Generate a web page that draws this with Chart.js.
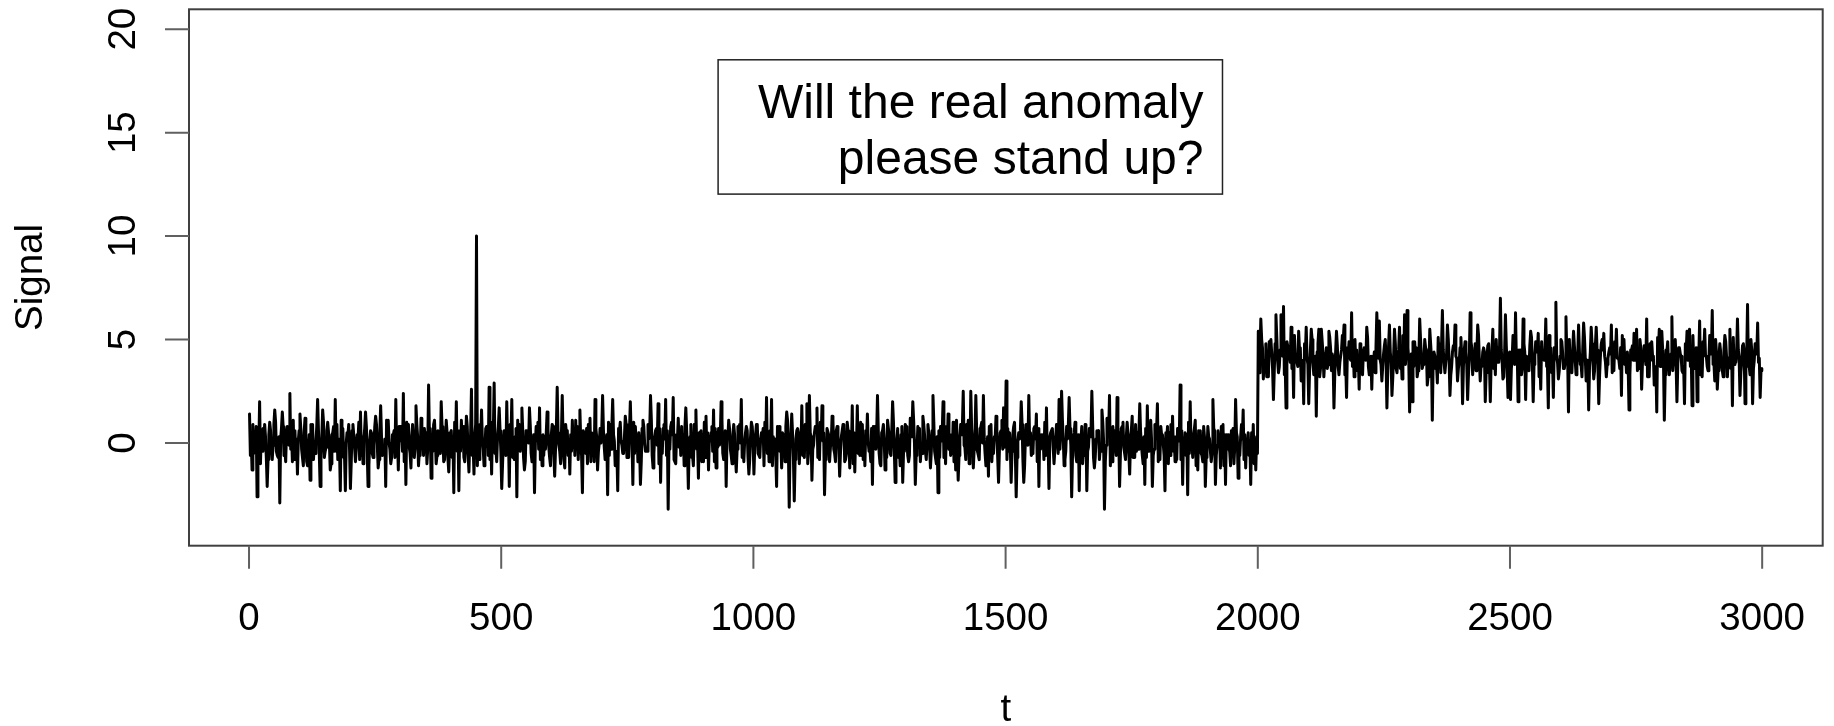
<!DOCTYPE html>
<html>
<head>
<meta charset="utf-8">
<title>Will the real anomaly please stand up?</title>
<script src="https://cdn.jsdelivr.net/npm/chart.js@4.4.1/dist/chart.umd.min.js"></script>
<style>
  html, body { margin: 0; padding: 0; background: #fff; }
  canvas { display: block; }
</style>
</head>
<body>
<canvas id="signalChart" width="1834" height="726"></canvas>
<script>
// signal: peaks/troughs every 5 steps of t (t = 1, 6, 11, ...)
// t = 1 .. 1996
const baseline = [
  1.4, -1.3, 0.4, -2.6, 2.0, -0.4, 0.9, -2.1, 1.0, -0.8, 1.6, -0.6, -2.9, 1.5, -0.3, 0.8, 2.4, -0.9, 0.6, -1.5,
  1.4, -0.7, 1.2, -1.1, -1.8, 0.9, -0.5, 2.1, -2.1, 1.6, -0.4, 1.0, -1.3, 0.5, 2.1, -0.8, -2.3, 0.7, -2.3, 0.4,
  -2.2, 0.9, -0.9, 0.2, 1.5, -1.0, 1.5, -2.1, 0.6, -0.7, 1.3, -1.2, 1.8, -0.5, -2.1, 1.1, -1.0, 0.4, 2.1, -1.3,
  0.8, 2.4, -2.0, 0.9, -1.2, 0.3, 1.8, -1.1, 1.2, -0.6, 0.5, 2.8, -1.7, 0.9, -1.0, 0.4, 2.0, -0.9, 1.1, -1.4,
  0.6, -2.4, 2.0, -2.3, 1.1, -0.7, 1.3, -1.4, 2.6, -1.5, 10.0, -0.8, 1.6, -1.1, 0.8, 2.7, -1.5, 2.9, -0.9, 1.7,
  -2.2, 0.6, 2.0, -2.1, 2.1, -0.8, -2.6, 0.9, 1.7, -1.3, 0.5, 1.7, -0.9, -2.4, 0.7, 1.7, -1.1, 0.3, 1.5, -0.7,
  0.9, -1.6, 2.7, -0.4, 2.3, -1.2, 0.6, -1.5, 1.1, -0.6, 0.8, 1.6, -2.4, 0.5, -1.0, 1.2, -0.4, 2.1, -1.3, 0.7,
  2.3, -0.8, -2.5, 0.9, 2.1, -1.1, -2.3, 1.0, -0.5, 1.3, -0.7, 2.0, -2.0, 0.8, -0.9, -2.0, 1.1, -0.4, 0.9, 2.3,
  -1.2, 0.6, 1.9, -1.9, 0.7, 2.1, -3.2, 0.8, 2.2, -1.0, 1.2, -0.6, 0.4, 1.7, -2.2, 0.9, -1.1, 1.6, -1.7, 0.6,
  -0.9, 1.3, -1.3, 0.5, 1.6, -1.2, 0.7, 2.0, -0.8, -2.1, 1.1, -0.6, 0.9, -1.4, 0.4, 2.1, -0.9, 0.8, -1.5, 1.0,
  -1.5, 0.9, -0.6, 0.5, -1.1, 2.2, -0.9, 2.1, -0.4, -2.1, 0.8, -1.2, 0.4, 1.5, -3.1, 1.4, -2.8, 0.6, -1.0, 1.8,
  -0.7, 1.9, 2.3, -1.8, 0.5, 1.7, -0.8, 1.8, -2.5, 0.7, -0.9, 1.3, -0.5, 0.8, -1.6, 0.6, -0.9, 1.0, -1.2, 1.8,
  -1.4, 1.8, -0.6, 0.9, -1.1, 1.4, -0.3, -2.0, 0.8, 2.3, -1.0, 0.6, -1.3, 1.1, -0.5, 2.0, -1.9, 0.7, -1.1, -1.9,
  0.9, -0.6, 1.2, 2.0, -2.0, 0.8, -0.9, 1.3, -0.4, 0.9, -1.2, 2.3, -0.7, -2.4, 0.8, 2.0, -1.0, 1.4, -0.6, 1.0,
  -1.3, -1.8, 0.9, 2.5, -0.8, 1.1, 2.5, -1.2, 2.3, -0.6, 0.8, 2.3, -1.1, -1.6, 0.9, -0.5, 1.3, -1.9, 0.6, 1.7,
  3.0, -0.4, -1.9, 0.8, -2.6, 0.5, 2.0, -1.9, 0.9, 2.3, -0.6, 0.7, 1.4, -2.1, 0.4, -0.8, 1.7, -2.2, 0.6, -1.0,
  0.9, 2.1, 2.5, -1.1, 0.8, 2.2, -2.6, 0.5, -0.9, -2.3, 0.8, -0.6, -2.3, 0.7, 2.5, -1.2, 0.6, -0.8, 1.6, -3.2,
  1.2, 2.3, -0.9, 0.6, 2.2, -2.1, 0.8, -0.5, 1.0, -1.5, 1.3, -0.7, 0.5, 1.9, -0.6, -2.0, 1.8, 0.2, -2.1, 0.9,
  1.9, -0.8, 0.4, -2.3, 0.8, -0.6, 1.3, -0.9, 0.7, 2.8, -2.0, 0.5, -2.5, 2.0, -0.7, 1.1, -1.3, 0.6, -0.9, -2.1,
  0.8, -0.4, 2.1, -2.0, 0.6, -1.2, 0.9, -2.0, 0.4, -1.1, 0.7, 2.1, -1.7, 0.3, 1.6, -1.2, 0.5, -2.0, 0.9, -1.3
];
// t = 2001 .. 2996, after the level shift
const shifted = [
  5.4, 6.0, 3.1, 4.8, 3.2, 5.0, 2.1, 6.2, 3.4, 6.2, 6.6, 1.7, 4.5, 5.6, 2.2, 4.1, 5.4, 3.0, 1.9, 5.6,
  1.9, 5.5, 3.3, 1.3, 5.5, 5.5, 3.2, 4.6, 5.4, 3.5, 1.7, 5.4, 3.3, 4.5, 5.7, 2.2, 4.9, 6.3, 3.2, 4.5,
  2.6, 3.8, 4.6, 5.6, 3.3, 2.6, 4.4, 6.3, 5.9, 3.0, 4.7, 1.7, 5.7, 2.3, 5.5, 3.4, 5.6, 3.1, 6.2, 6.4,
  1.5, 2.0, 4.9, 3.2, 6.0, 3.6, 5.0, 2.8, 5.5, 1.1, 4.2, 2.9, 4.8, 6.4, 3.4, 5.7, 2.3, 4.4, 5.7, 3.0,
  4.6, 1.9, 4.9, 2.1, 6.3, 3.3, 4.8, 5.7, 3.0, 4.4, 2.0, 4.7, 2.0, 5.5, 3.3, 4.6, 7.0, 3.1, 6.2, 2.2,
  2.1, 5.2, 6.3, 2.0, 4.5, 6.0, 2.1, 3.8, 5.4, 2.0, 4.9, 5.3, 2.6, 4.2, 6.0, 1.7, 4.6, 2.2, 6.8, 3.1,
  5.0, 3.6, 6.1, 1.5, 4.4, 5.4, 3.3, 5.7, 3.8, 5.8, 3.0, 1.6, 5.6, 3.1, 5.6, 1.9, 4.8, 5.3, 3.2, 4.4,
  5.7, 3.5, 5.5, 4.0, 2.3, 5.0, 3.4, 1.6, 4.5, 5.3, 5.5, 3.6, 2.6, 4.7, 6.0, 3.2, 4.9, 2.8, 1.5, 5.5,
  5.4, 1.1, 4.4, 3.3, 6.1, 3.8, 2.0, 4.6, 3.5, 1.9, 5.4, 5.5, 1.8, 4.2, 2.0, 5.9, 3.2, 5.5, 3.7, 5.2,
  6.4, 3.0, 2.6, 4.8, 3.5, 5.2, 3.2, 5.5, 1.8, 4.3, 6.0, 2.3, 4.7, 1.9, 6.7, 3.3, 1.9, 4.8, 5.8, 2.2
];
// core of the band, first reading in between: t = 2.7 .. 1997.7
const baselineMid2 = [
  -0.6, 0.9, -0.2, 0.5, -1.0, 0.7, 0.3, -0.8, 0.6, -0.1, 1.0, -0.7, 0.2, 0.8, -0.9, 0.4, -0.3, 1.1, -0.5, 0.1,
  0.7, -1.1, 0.3, -0.4, 0.9, -0.8, 0.1, 0.6, -0.6, 1.0, -0.2, 0.5, -1.0, 0.8, -0.4, 0.2, 1.1, -0.7, 0.0, 0.9,
  -0.9, 0.4, -0.3, 1.0, -0.6, 0.2, 0.8, -1.1, 0.5, -0.1, 0.9, -0.8, 0.3, -0.5, 1.1, 0.0, -0.7, 0.6, -0.2, 0.8,
  0.5, -0.9, 1.0, -0.2, 0.3, -0.7, 0.9, -0.4, 0.1, 0.7, -1.0, 0.4, -0.3, 1.1, -0.6, 0.2, 0.8, -0.8, 0.5, -0.1,
  -0.7, 1.0, -0.4, 0.6, -0.1, -0.9, 0.8, 0.2, -0.6, 0.4, -1.1, 0.9, 0.1, -0.3, 0.7, -0.8, 1.0, -0.5, 0.3, 0.6,
  -1.0, 0.5, -0.2, 0.9, -0.7, 0.3, 1.1, -0.4, 0.6, -0.9, 0.2, 0.8, -0.6, 0.0, 1.0, -0.8, 0.4, -0.3, 0.7, -1.1,
  0.8, -0.3, 0.5, -1.0, 0.2, 0.9, -0.6, 0.4, -0.2, 1.1, -0.8, 0.1, 0.6, -0.5, 0.9, -0.9, 0.3, 0.7, -0.4, 0.0,
  0.6, -0.8, 1.0, -0.3, 0.4, -1.1, 0.7, 0.1, -0.5, 0.9, -0.7, 0.3, 1.0, -0.2, 0.5, -0.9, 0.8, -0.4, 0.2, 1.1,
  -0.5, 0.7, -1.0, 0.3, 0.9, -0.6, 0.1, 1.0, -0.8, 0.4, -0.2, 0.8, -1.1, 0.6, 0.0, -0.7, 0.9, -0.3, 0.5, -0.9,
  1.0, -0.4, 0.2, 0.8, -0.9, 0.5, -0.1, 1.1, -0.6, 0.3, 0.7, -1.0, 0.4, -0.3, 0.9, -0.7, 0.1, 0.6, -0.8, 0.8,
  -0.2, 0.9, -0.7, 0.3, 1.0, -0.5, 0.6, -1.1, 0.2, 0.8, -0.4, 0.5, -0.9, 1.1, -0.1, 0.4, -0.8, 0.7, 0.0, -0.6,
  0.9, -1.0, 0.5, -0.3, 0.8, -0.7, 1.0, 0.1, -0.6, 0.7, -0.2, 1.1, -0.9, 0.3, -0.4, 0.9, -0.8, 0.6, 0.2, -1.0,
  0.4, -0.5, 1.0, -0.8, 0.6, 0.0, -0.9, 0.8, -0.3, 0.5, -1.1, 0.9, -0.2, 0.7, -0.6, 1.0, 0.1, -0.7, 0.4, -0.4,
  0.8, -0.9, 0.3, 1.1, -0.6, 0.2, -0.2, 0.9, -0.8, 0.5, -0.4, 1.0, -1.0, 0.6, 0.1, -0.7, 0.8, -0.3, 0.4, -0.9,
  1.1, -0.6, 0.4, -0.1, 0.9, -1.0, 0.7, -0.3, 0.5, -0.8, 1.0, 0.2, -0.6, 0.8, -0.9, 0.3, 0.6, -0.4, 1.1, -0.2,
  -0.8, 0.5, -0.4, 1.0, -0.7, 0.2, 0.9, -1.1, 0.6, 0.0, -0.5, 0.8, -0.9, 0.4, -0.2, 1.0, -0.6, 0.3, 0.7, -1.0,
  0.6, -0.3, 1.1, -0.8, 0.2, 0.7, -0.6, 1.0, -0.1, 0.4, -1.0, 0.9, -0.4, 0.3, 0.8, -0.7, 0.5, -0.2, 1.0, -0.9,
  0.3, -1.1, 0.8, -0.2, 0.6, -0.5, 1.0, -0.8, 0.4, 0.1, -0.7, 0.9, -0.3, 0.5, -1.0, 0.7, -0.4, 1.1, -0.6, 0.2,
  -0.9, 0.8, -0.1, 0.5, -1.0, 0.9, -0.4, 0.3, 0.7, -0.8, 0.2, -0.6, 1.0, -0.3, 0.4, -1.1, 0.6, -0.5, 0.8, -0.7,
  0.3, -0.9, 0.7, -0.6, 0.1, 0.8, -1.1, 0.4, -0.3, 0.6, -1.0, 0.5, -0.2, 0.9, -0.8, 0.2, -0.6, 0.5, -1.0, 0.3
];
// second reading in between: t = 4.3 .. 1999.3
const baselineMid = [
  0.2, -0.5, 0.8, -0.3, 0.6, 0.1, -0.7, 0.4, -0.2, 0.9, -0.4, 0.3, 0.7, -0.6, 0.5, -0.1, 0.4, -0.8, 0.2, 0.6,
  -0.3, 0.5, -0.9, 0.4, 0.1, -0.2, 0.8, -0.5, 0.3, -0.7, 0.6, 0.0, 0.4, -0.4, 0.9, -0.1, 0.3, -0.6, 0.5, -0.3,
  0.6, -0.2, 0.4, -0.8, 0.3, 0.7, -0.4, 0.1, -0.5, 0.8, -0.1, 0.5, -0.6, 0.2, 0.6, -0.3, 0.4, -0.7, 0.3, 0.1,
  -0.4, 0.6, 0.2, -0.5, 0.9, -0.2, 0.3, -0.6, 0.5, 0.1, -0.3, 0.7, -0.4, 0.2, 0.6, -0.5, 0.4, 0.0, -0.7, 0.5,
  0.3, -0.2, 0.6, -0.4, 0.8, 0.1, -0.5, 0.4, -0.1, 0.9, 0.6, 0.2, -0.3, 0.7, -0.6, 0.3, 0.5, -0.2, 0.8, -0.4,
  0.1, -0.6, 0.5, 0.2, -0.4, 0.7, -0.1, 0.3, -0.7, 0.6, 0.0, -0.5, 0.4, 0.8, -0.3, 0.2, -0.6, 0.5, -0.2, 0.4,
  -0.5, 0.7, -0.1, 0.3, -0.8, 0.5, 0.2, -0.4, 0.6, -0.2, 0.4, -0.6, 0.1, 0.7, -0.3, 0.5, -0.9, 0.3, 0.0, 0.6,
  -0.2, 0.4, -0.6, 0.8, 0.1, -0.4, 0.5, -0.1, 0.3, -0.7, 0.6, 0.2, -0.5, 0.4, -0.2, 0.7, 0.0, -0.4, 0.5, -0.6,
  0.3, -0.1, 0.7, -0.5, 0.2, 0.6, -0.3, 0.4, -0.8, 0.1, 0.5, -0.2, 0.8, -0.4, 0.3, -0.6, 0.6, 0.0, -0.3, 0.4,
  -0.7, 0.5, 0.1, -0.4, 0.7, -0.2, 0.3, -0.5, 0.6, 0.2, -0.3, 0.4, -0.6, 0.8, 0.0, -0.2, 0.5, -0.7, 0.3, 0.1,
  0.4, -0.5, 0.2, 0.7, -0.3, 0.5, -0.1, 0.3, -0.6, 0.6, 0.1, -0.4, 0.8, -0.2, 0.4, -0.7, 0.2, 0.5, -0.3, 0.0,
  0.6, -0.4, 0.3, -0.1, 0.7, -0.5, 0.2, 0.5, -0.8, 0.4, 0.0, -0.3, 0.6, -0.2, 0.3, 0.8, -0.5, 0.1, -0.4, 0.5,
  -0.2, 0.6, -0.6, 0.3, 0.1, -0.4, 0.7, -0.1, 0.4, -0.5, 0.5, 0.2, -0.7, 0.3, 0.6, -0.3, 0.1, -0.2, 0.8, -0.4,
  0.2, -0.6, 0.5, 0.0, -0.3, 0.7, -0.5, 0.4, 0.1, -0.2, 0.6, -0.4, 0.3, -0.7, 0.5, 0.2, -0.1, 0.4, -0.5, 0.6,
  -0.3, 0.3, 0.8, -0.2, 0.5, -0.6, 0.1, 0.4, -0.4, 0.7, 0.0, -0.5, 0.3, 0.6, -0.1, 0.2, -0.7, 0.5, -0.3, 0.4,
  0.7, -0.2, 0.4, -0.5, 0.1, 0.6, -0.8, 0.3, -0.1, 0.5, -0.4, 0.2, 0.7, -0.3, 0.4, -0.6, 0.0, 0.5, -0.2, 0.3,
  -0.5, 0.6, 0.2, -0.4, 0.8, -0.1, 0.3, -0.6, 0.4, 0.1, -0.3, 0.7, -0.2, 0.5, -0.7, 0.2, 0.6, -0.4, 0.1, -0.1,
  0.5, -0.3, 0.2, -0.6, 0.4, 0.7, -0.2, 0.3, -0.5, 0.6, 0.0, -0.4, 0.5, -0.1, 0.3, -0.7, 0.4, 0.2, -0.3, 0.6,
  -0.1, 0.4, -0.6, 0.2, 0.5, -0.4, 0.3, -0.8, 0.1, 0.6, -0.2, 0.4, -0.5, 0.2, 0.7, -0.3, 0.0, -0.6, 0.3, -0.4,
  0.2, -0.5, 0.6, -0.1, 0.3, -0.7, 0.4, 0.1, -0.4, 0.5, -0.2, 0.3, -0.6, 0.2, 0.4, -0.3, 0.1, -0.8, 0.2, -0.5
];
// t = 2002.7 .. 2997.7
const shiftedMid2 = [
  3.4, 5.0, 4.0, 3.2, 4.9, 4.3, 3.5, 5.1, 3.7, 4.6, 3.3, 4.9, 4.2, 3.6, 5.2, 3.9, 4.5, 3.3, 4.8, 4.1,
  3.5, 5.0, 3.8, 4.4, 3.2, 4.9, 4.0, 3.6, 5.1, 4.3, 3.4, 4.7, 3.9, 5.2, 3.3, 4.6, 4.1, 3.7, 5.0, 3.5,
  4.8, 3.3, 4.5, 5.1, 3.6, 4.2, 3.4, 4.9, 4.0, 3.7, 5.0, 3.5, 4.4, 3.2, 4.8, 4.1, 3.6, 5.2, 3.8, 4.6,
  3.3, 4.9, 4.2, 3.5, 5.0, 3.8, 4.6, 3.2, 4.8, 4.0, 3.6, 5.1, 3.4, 4.5, 3.9, 5.0, 3.3, 4.7, 4.2, 3.6,
  5.1, 3.7, 4.4, 3.3, 4.9, 4.1, 3.5, 5.2, 3.8, 4.6, 3.4, 4.8, 4.0, 3.6, 5.0, 3.9, 4.5, 3.2, 4.7, 4.3,
  3.6, 5.0, 3.9, 4.5, 3.3, 4.8, 4.2, 3.5, 5.1, 3.8, 4.4, 3.2, 4.9, 4.0, 3.7, 5.2, 3.4, 4.6, 4.1, 3.5,
  4.9, 3.6, 4.3, 5.0, 3.4, 4.7, 3.9, 4.4, 3.2, 5.1, 4.0, 3.7, 4.8, 3.5, 4.5, 3.3, 5.0, 4.2, 3.8, 4.6,
  3.4, 4.9, 4.1, 3.6, 5.2, 3.8, 4.4, 3.3, 4.7, 4.0, 3.5, 5.0, 3.9, 4.6, 3.2, 4.8, 4.2, 3.6, 5.1, 3.7,
  4.5, 3.3, 4.9, 4.1, 3.5, 5.0, 3.8, 4.3, 3.4, 4.8, 4.0, 3.7, 5.2, 3.6, 4.6, 3.3, 4.9, 4.2, 3.5, 4.7,
  3.8, 5.0, 3.5, 4.4, 3.2, 4.9, 4.1, 3.6, 5.1, 3.9, 4.5, 3.4, 4.8, 4.0, 3.7, 5.0, 3.6, 4.6, 3.9, 3.5
];
// t = 2004.3 .. 2999.3
const shiftedMid = [
  4.3, 4.6, 3.9, 4.1, 4.4, 3.6, 4.8, 4.0, 4.5, 4.2, 3.8, 4.7, 3.9, 4.4, 4.1, 3.7, 4.6, 4.0, 4.3, 3.8,
  4.5, 3.9, 4.2, 4.8, 3.6, 4.3, 4.1, 3.8, 4.6, 4.0, 4.4, 3.7, 4.2, 4.9, 3.9, 4.3, 4.0, 4.5, 3.8, 4.1,
  3.6, 4.4, 4.0, 3.7, 4.2, 3.9, 4.6, 4.1, 3.8, 4.3, 4.0, 4.7, 3.9, 4.2, 3.6, 4.5, 4.1, 3.8, 4.4, 4.0,
  4.3, 3.7, 4.6, 4.0, 4.2, 3.9, 4.5, 3.6, 4.1, 4.4, 3.8, 4.2, 4.7, 3.9, 4.3, 4.0, 3.7, 4.5, 4.1, 3.9,
  4.2, 4.5, 3.8, 4.1, 4.6, 3.9, 4.3, 4.0, 3.7, 4.4, 4.1, 3.8, 4.5, 4.2, 3.9, 4.6, 4.0, 4.3, 3.7, 4.4,
  4.1, 3.8, 4.5, 4.2, 3.6, 4.4, 4.0, 4.7, 3.9, 4.2, 4.5, 3.8, 4.1, 4.4, 3.7, 4.3, 4.0, 4.6, 3.9, 4.2,
  4.4, 3.9, 4.2, 3.7, 4.5, 4.0, 4.3, 3.8, 4.6, 4.1, 3.9, 4.4, 4.0, 4.7, 3.8, 4.2, 4.5, 3.9, 4.1, 4.3,
  3.8, 4.4, 4.1, 4.6, 3.9, 4.2, 3.7, 4.5, 4.0, 4.3, 3.9, 4.6, 4.1, 3.8, 4.4, 4.0, 4.2, 3.7, 4.5, 4.1,
  4.0, 4.5, 3.8, 4.3, 4.1, 3.9, 4.6, 4.2, 3.7, 4.4, 4.0, 4.3, 3.9, 4.6, 4.1, 3.8, 4.5, 4.2, 4.0, 4.3,
  3.9, 4.4, 4.1, 3.8, 4.5, 4.2, 4.0, 4.6, 3.8, 4.3, 4.1, 3.9, 4.4, 4.2, 3.7, 4.5, 4.0, 4.3, 4.1, 3.6
];
const signal = baseline.concat(shifted);
const signalMid2 = baselineMid2.concat(shiftedMid2);
const signalMid = baselineMid.concat(shiftedMid);

const xTicks = [0, 500, 1000, 1500, 2000, 2500, 3000];
const yTicks = [0, 5, 10, 15, 20];
const legendLines = ['Will the real anomaly', 'please stand up?'];
const xTitle = 't';
const yTitle = 'Signal';

const FONT = '"Liberation Sans", Arial, Helvetica, sans-serif';

// interleave the three readings in t order
const points = [];
signal.forEach((v, i) => {
  points.push({ x: 1 + 5 * i, y: v });
  points.push({ x: 2.7 + 5 * i, y: signalMid2[i] });
  points.push({ x: 4.3 + 5 * i, y: signalMid[i] });
});

// base-R look: boxed plot, outward ticks, rotated y labels, boxed legend
const rStyle = {
  id: 'rStyle',
  beforeDraw(chart) {
    const c = chart.ctx;
    c.save();
    c.fillStyle = '#fff';
    c.fillRect(0, 0, chart.width, chart.height);
    c.restore();
  },
  afterDraw(chart) {
    const c = chart.ctx, a = chart.chartArea;
    const x = chart.scales.x, y = chart.scales.y;
    c.save();

    c.strokeStyle = '#404040';
    c.lineWidth = 2;
    c.strokeRect(a.left, a.top, a.right - a.left, a.bottom - a.top);

    c.strokeStyle = '#606060';
    c.beginPath();
    xTicks.forEach(v => {
      const px = x.getPixelForValue(v);
      c.moveTo(px, a.bottom);
      c.lineTo(px, a.bottom + 23);
    });
    yTicks.forEach(v => {
      const py = y.getPixelForValue(v);
      c.moveTo(a.left, py);
      c.lineTo(a.left - 24, py);
    });
    c.stroke();

    c.fillStyle = '#000';
    c.font = '38.5px ' + FONT;
    c.textAlign = 'center';
    c.textBaseline = 'alphabetic';
    xTicks.forEach(v => c.fillText(String(v), x.getPixelForValue(v), a.bottom + 84));
    yTicks.forEach(v => {
      c.save();
      c.translate(a.left - 54.5, y.getPixelForValue(v));
      c.rotate(-Math.PI / 2);
      c.fillText(String(v), 0, 0);
      c.restore();
    });

    c.fillText(xTitle, (a.left + a.right) / 2, a.bottom + 175);
    c.save();
    c.translate(a.left - 147.5, (a.top + a.bottom) / 2);
    c.rotate(-Math.PI / 2);
    c.fillText(yTitle, 0, 0);
    c.restore();

    // legend box
    const bx0 = x.getPixelForValue(930), bx1 = x.getPixelForValue(1930);
    const by0 = y.getPixelForValue(18.52), by1 = y.getPixelForValue(12.03);
    c.fillStyle = '#fff';
    c.fillRect(bx0, by0, bx1 - bx0, by1 - by0);
    c.strokeStyle = '#222';
    c.lineWidth = 1.5;
    c.strokeRect(bx0, by0, bx1 - bx0, by1 - by0);
    c.fillStyle = '#000';
    c.font = '48px ' + FONT;
    c.textAlign = 'right';
    legendLines.forEach((s, i) => c.fillText(s, bx1 - 19, by0 + 58.5 + i * 55.5));

    c.restore();
  }
};

new Chart(document.getElementById('signalChart'), {
  type: 'line',
  data: {
    datasets: [{
      label: 'Signal',
      data: points,
      borderColor: '#000',
      borderWidth: 3,
      borderJoinStyle: 'round',
      borderCapStyle: 'round',
      pointRadius: 0,
      tension: 0,
      fill: false
    }]
  },
  options: {
    responsive: false,
    animation: false,
    devicePixelRatio: 1,
    layout: { padding: { top: 9.3, right: 11.3, left: 0, bottom: 0 } },
    plugins: {
      legend: { display: false },
      tooltip: { enabled: false }
    },
    scales: {
      x: {
        type: 'linear',
        min: -119,
        max: 3120,
        grid: { display: false },
        border: { display: false },
        ticks: { display: false },
        afterFit: s => { s.height = 180.3; }
      },
      y: {
        min: -4.96,
        max: 20.96,
        grid: { display: false },
        border: { display: false },
        ticks: { display: false },
        afterFit: s => { s.width = 189; }
      }
    }
  },
  plugins: [rStyle]
});
</script>
</body>
</html>
